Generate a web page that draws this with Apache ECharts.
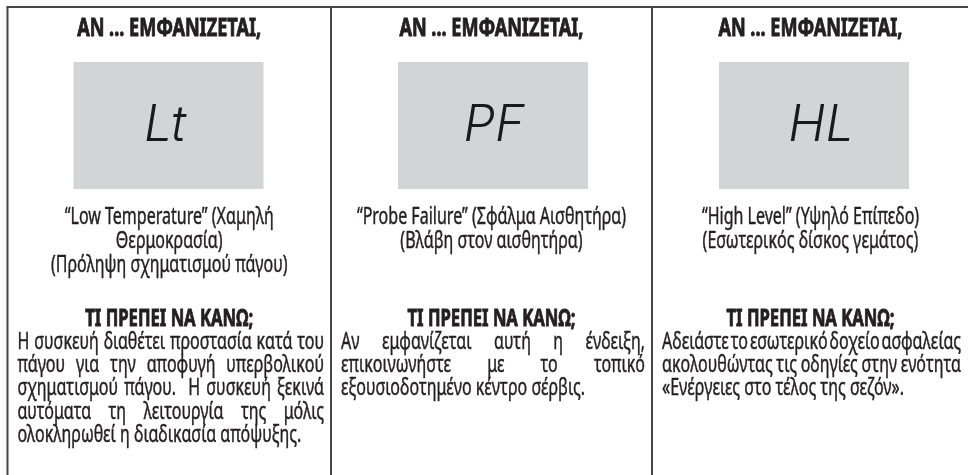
<!DOCTYPE html>
<html><head><meta charset="utf-8">
<script src="https://cdn.jsdelivr.net/npm/echarts@6/dist/echarts.min.js"></script>
<style>html,body{margin:0;padding:0;background:#fff}#c{width:968px;height:475px}</style>
</head><body><div id="c"></div>
<script>
// ---- content ----
const columnTitles = ['ΑΝ ... ΕΜΦΑΝΙΖΕΤΑΙ,', 'ΑΝ ... ΕΜΦΑΝΙΖΕΤΑΙ,', 'ΑΝ ... ΕΜΦΑΝΙΖΕΤΑΙ,'];
const displayCodes = ['Lt', 'PF', 'HL'];
const descriptions = [
  ['“Low Temperature” (Χαμηλή', 'Θερμοκρασία)', '(Πρόληψη σχηματισμού πάγου)'],
  ['“Probe Failure” (Σφάλμα Αισθητήρα)', '(Βλάβη στον αισθητήρα)'],
  ['“High Level” (Υψηλό Επίπεδο)', '(Εσωτερικός δίσκος γεμάτος)']
];
const actionTitle = 'ΤΙ ΠΡΕΠΕΙ ΝΑ ΚΑΝΩ;';
const actionLines = [
  ['Η συσκευή διαθέτει προστασία κατά του', 'πάγου για την αποφυγή υπερβολικού', 'σχηματισμού πάγου.  Η συσκευή ξεκινά', 'αυτόματα τη λειτουργία της μόλις', 'ολοκληρωθεί η διαδικασία απόψυξης.'],
  ['Αν εμφανίζεται αυτή η ένδειξη,', 'επικοινωνήστε με το τοπικό', 'εξουσιοδοτημένο κέντρο σέρβις.'],
  ['Αδειάστε το εσωτερικό δοχείο ασφαλείας', 'ακολουθώντας τις οδηγίες στην ενότητα', '«Ενέργειες στο τέλος της σεζόν».']
];

// ---- layout / style ----
const FONT = '"Noto Sans", "Liberation Sans", sans-serif';
const INK = '#231f20';
const colEdges = [7.5, 331, 652, 969];
const boxCenters = [168.5, 493, 814];
const glyphCenters = [165, 494, 821];
const padL = 10, padR = 7;
const bodySize = 23.5, headSize = 25, actSize = 24;
const bodyWeight = 'normal', headWeight = 'bold';
const bodyBorder = 0.45, headBorder = 0.9;

const mctx = document.createElement('canvas').getContext('2d');
function measure(t, size, weight) {
  mctx.font = (weight || 'normal') + ' ' + size + 'px ' + FONT;
  return mctx.measureText(t).width;
}
// horizontal condensing factors, fitted to the widths of lines in the reference
const bodyScale = 209 / measure(descriptions[0][0], bodySize, bodyWeight);
const headScale = 184 / measure(columnTitles[0], headSize, headWeight);
const actScale = 168 / measure(actionTitle, actSize, headWeight);

function txt(text, x, y, size, weight, align, sx, border) {
  return {
    type: 'text', silent: true, x: x, y: y, scaleX: sx,
    style: { text: text, x: 0, y: 0, fontSize: size, fontFamily: FONT, fontWeight: weight,
      fill: INK, stroke: INK, lineWidth: border, textAlign: align || 'left', textVerticalAlign: 'middle' }
  };
}
function justified(line, x0, x1, y, last) {
  if (last) return [txt(line, x0, y, bodySize, bodyWeight, 'left', bodyScale, bodyBorder)];
  const tokens = line.split(' ');
  const widths = tokens.map(t => measure(t, bodySize, bodyWeight) * bodyScale);
  const total = widths.reduce((a, b) => a + b, 0);
  const gap = (x1 - x0 - total) / (tokens.length - 1);
  const out = [];
  let x = x0;
  tokens.forEach((t, i) => { if (t) out.push(txt(t, x, y, bodySize, bodyWeight, 'left', bodyScale, bodyBorder)); x += widths[i] + gap; });
  return out;
}

const els = [];
const lineStyle = { stroke: '#454545', lineWidth: 2 };
els.push({ type: 'line', silent: true, shape: { x1: colEdges[0] - 1, y1: 7, x2: 968, y2: 7 }, style: lineStyle });
[0, 1, 2].forEach(i => els.push({ type: 'line', silent: true, shape: { x1: colEdges[i], y1: 7, x2: colEdges[i], y2: 475 }, style: lineStyle }));

for (let c = 0; c < 3; c++) {
  const x0 = colEdges[c], x1 = Math.min(colEdges[c + 1], 968);
  const cx = (colEdges[c] + colEdges[c + 1]) / 2;
  els.push(txt(columnTitles[c], cx, 29, headSize, headWeight, 'center', headScale, headBorder));
  els.push({ type: 'rect', silent: true, shape: { x: boxCenters[c] - 95, y: 62, width: 190, height: 127 }, style: { fill: '#d3d4d6' } });
  els.push({ type: 'text', silent: true, style: { text: displayCodes[c], x: glyphCenters[c], y: 126, fontSize: 50, fontFamily: 'Inter, Lato, Roboto, sans-serif', fontWeight: 300, fontStyle: 'italic', fill: '#1a1a1a', textAlign: 'center', textVerticalAlign: 'middle' } });
  descriptions[c].forEach((l, k) => els.push(txt(l, cx, 217 + k * 24, bodySize, bodyWeight, 'center', bodyScale, bodyBorder)));
  els.push(txt(actionTitle, cx, 319, actSize, headWeight, 'center', actScale, headBorder));
  const lines = actionLines[c];
  lines.forEach((l, k) => justified(l, x0 + padL, x1 - padR, 342 + k * 23.4, k === lines.length - 1).forEach(e => els.push(e)));
}

const chart = echarts.init(document.getElementById('c'), null, { renderer: 'canvas' });
chart.setOption({ backgroundColor: '#ffffff', animation: false, graphic: { elements: els } });
</script>
</body></html>
